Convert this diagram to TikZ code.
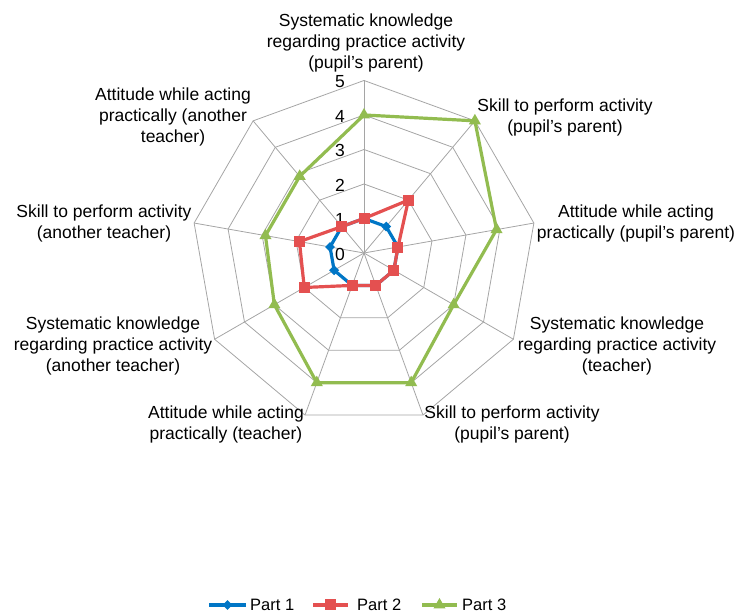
\documentclass[tikz,border=0pt]{standalone}
\usepackage{fontspec}
\setmainfont{Liberation Sans}
\usetikzlibrary{shapes.geometric}
\definecolor{pone}{RGB}{0,118,198}
\definecolor{ptwo}{RGB}{228,80,80}
\definecolor{pthree}{RGB}{146,188,80}
\definecolor{gridc}{RGB}{165,165,165}
\begin{document}
\begin{tikzpicture}[x=1pt,y=1pt,
  font=\fontsize{17.5}{21}\selectfont,
  lab/.style={align=center, inner sep=0pt},
  gridline/.style={draw=gridc, line width=0.8pt},
  series/.style={line width=3.2pt, line join=round},
  dia/.style={diamond, fill=pone, inner sep=0pt, minimum size=10pt},
  sq/.style={rectangle, fill=ptwo, inner sep=0pt, minimum size=11pt},
  tri/.style={regular polygon, regular polygon sides=3, fill=pthree, inner sep=0pt, minimum size=14pt},
  scl/.style={inner sep=0pt},
  legtext/.style={anchor=west, inner sep=0pt, font=\fontsize{16.5}{19}\selectfont}]
\useasboundingbox (0,0) rectangle (739,615);
\begin{scope}[shift={(364,362)}]
  % grid
  \foreach \k in {1,...,5}{
    \draw[gridline] (90:\k*34.5) \foreach \i in {1,...,8}{ -- (90-40*\i:\k*34.5)} -- cycle;
  }
  \foreach \i in {0,...,8}{
    \draw[gridline] (0,0) -- (90-40*\i:172.5);
  }
  % scale labels
  \foreach \k in {0,...,5}{
    \node[scl] (s\k) at (-24, 34.5*\k-1) {\k};
  }
  % data points
  \foreach \v [count=\i from 0] in {1,1,1,1,1,1,1,1,1}{
    \coordinate (a\i) at (90-40*\i:\v*34.5);
  }
  \foreach \v [count=\i from 0] in {1,2,1,1,1,1,2,1.9,1}{
    \coordinate (b\i) at (90-40*\i:\v*34.5);
  }
  \foreach \v [count=\i from 0] in {4,5,3.9,3,4,4,3,2.9,2.9}{
    \coordinate (g\i) at (90-40*\i:\v*34.5);
  }
  % Part 1
  \draw[series, pone] (a0) -- (a1) -- (a2) -- (a3) -- (a4) -- (a5) -- (a6) -- (a7) -- (a8) -- cycle;
  \foreach \i in {0,...,8}{ \node[dia] (am\i) at (a\i) {}; }
  % Part 2
  \draw[series, ptwo] (b0) -- (b1) -- (b2) -- (b3) -- (b4) -- (b5) -- (b6) -- (b7) -- (b8) -- cycle;
  \foreach \i in {0,...,8}{ \node[sq] (bm\i) at (b\i) {}; }
  % Part 3
  \draw[series, pthree] (g0) -- (g1) -- (g2) -- (g3) -- (g4) -- (g5) -- (g6) -- (g7) -- (g8) -- cycle;
  \foreach \i in {0,...,8}{ \node[tri] (gm\i) at (g\i) {}; }
\end{scope}
% axis labels
\node[lab] (l0) at (366,572) {Systematic knowledge\\regarding practice activity\\(pupil’s parent)};
\node[lab] (l1) at (565,498) {Skill to perform activity\\(pupil’s parent)};
\node[lab] (l2) at (636,392) {Attitude while acting\\practically (pupil’s parent)};
\node[lab] (l3) at (617,269) {Systematic knowledge\\regarding practice activity\\(teacher)};
\node[lab] (l4) at (512,191) {Skill to perform activity\\(pupil’s parent)};
\node[lab] (l5) at (226,191) {Attitude while acting\\practically (teacher)};
\node[lab] (l6) at (113,269) {Systematic knowledge\\regarding practice activity\\(another teacher)};
\node[lab] (l7) at (104,392) {Skill to perform activity\\(another teacher)};
\node[lab] (l8) at (173,498) {Attitude while acting\\practically (another\\teacher)};
% legend
\coordinate (k1a) at (209,10); \coordinate (k1b) at (246,10);
\coordinate (k2a) at (313,10); \coordinate (k2b) at (348,10);
\coordinate (k3a) at (422,10); \coordinate (k3b) at (457,10);
\draw[series, pone] (k1a) -- (k1b);
\node[dia] (km1) at (227.5,10) {};
\node[legtext] (kt1) at (250,10) {Part 1};
\draw[series, ptwo] (k2a) -- (k2b);
\node[sq] (km2) at (330.5,10) {};
\node[legtext] (kt2) at (357,10) {Part 2};
\draw[series, pthree] (k3a) -- (k3b);
\node[tri] (km3) at (439.5,10) {};
\node[legtext] (kt3) at (462,10) {Part 3};
\end{tikzpicture}
\end{document}
